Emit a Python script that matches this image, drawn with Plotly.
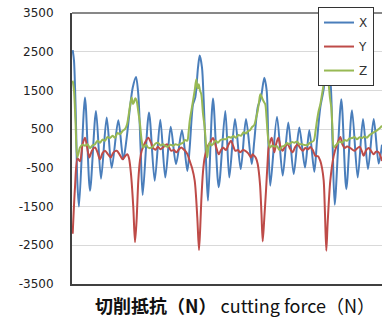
import plotly.graph_objects as go

# sample positions (arbitrary time units) and force values (N)
t_x = [0.7, 2, 4, 5.3, 7, 13, 18, 24, 29, 34.7, 39.7, 46.3, 51.3, 54.7, 58, 60.7, 64, 66.3, 68.7, 70.7,
       77, 82.7, 88.3, 93.3, 98.7, 104, 110, 115.3, 117.7, 121, 123.3, 126, 127.7, 130, 131.7, 134.3, 136,
       141, 146.7, 153.3, 157.3, 163, 168.7, 174, 179.7, 182.3, 185.7, 189, 192.3, 194.7, 196.3, 198.3,
       205, 210.7, 216.3, 221.7, 227.3, 233, 237.3, 242.3, 245, 248.3, 251.5, 255, 258.5, 260.5, 262.7,
       269.3, 274.3, 280, 285.7, 291, 296, 301.7, 306.7, 310]
v_x = [2540, 2270, 640, -830, -1500, 1315, -1090, 970, -780, 800, -500, 730, -280, 280, 1060, 1570, 1850, 1400, -60, -1200,
       930, -830, 740, -750, 560, -400, 470, -580, 25, 1140, 1320, 2090, 2400, 2090, 1230, -490, -1350,
       1290, -1000, 970, -750, 760, -530, 760, -400, 200, 1060, 1320, 1830, 1490, 200, -960,
       820, -700, 670, -660, 540, -490, 470, -600, 200, 1060, 1500, 2200, 1700, 200, -1450,
       1270, -1050, 990, -750, 760, -530, 760, -390, 100]

t_y = [0.7, 3, 5.5, 8, 10.5, 13, 15, 17.3, 20, 23, 25.5, 28, 30.5, 33, 36, 38.7, 41.5, 44.7, 47.5, 50.7, 53, 55.3, 57,
       59, 61.3, 63, 64.7, 66.3, 68, 69.7, 73, 76.3, 79, 81, 83.5, 86, 88.5, 91, 95, 97, 99.3, 102, 104.3, 107,
       109.3, 111.5, 113.3, 115.5, 117.7, 120, 122.7, 125.3, 127, 128.3, 129.3, 131, 132.7, 136, 138, 141, 144,
       146.7, 149, 151, 154, 156.5, 159, 161, 163.3, 166, 168, 171, 173.3, 176, 179, 180.5, 182.3, 184, 185.7,
       188, 189.5, 190.7, 192.3, 194, 195.5, 196.7, 199.7, 202.3, 204, 206.3, 208.5, 210.7, 213, 215.7, 218,
       220.7, 223, 225.7, 228, 230.7, 233.3, 236, 238.3, 241, 243.3, 246, 248.3, 250, 251.7, 253, 254.3, 255.7,
       258.3, 261.7, 265, 268.3, 270.5, 272.7, 275, 277.7, 280, 282.7, 285, 287.7, 290, 291.7, 294, 296.7, 299,
       301.7, 304, 306.7, 310]
v_y = [-2200, -1000, -250, -330, 100, 280, 50, -230, -50, 25, -100, -280, -120, -60, -150, -230, -100, -60, -150, -280, -200, -150, -250,
       -660, -1520, -2420, -1800, -830, -300, -60, 150, 280, 150, 15, -30, 45, -20, 25, 110, 30, -60, -40, -100, -20,
       25, -20, -60, -150, -320, -500, -830, -1780, -2620, -2000, -1350, -600, -230, 70, 150, 270, 50,
       -150, -40, 25, -40, 100, 200, 80, -60, -40, -100, -40, -60, -120, -230, -150, -190, -250, -400,
       -920, -1700, -2400, -1800, -1090, -400, 25, 280, -100, 100, 280, 50, -60, 50, 110, 0,
       -100, 30, 110, 20, -60, 15, -20, 40, -50, -190, -200, -320, -500, -830, -1700, -2640, -1900,
       -830, -190, 100, 300, 100, 15, 50, 25, -20, -60, 0, 45, -80, -190, -50, 15, -60,
       -150, -80, -100, -320]

t_z = [0.7, 2, 3.5, 5.3, 8, 10.5, 13, 15.5, 18, 20.5, 23, 25.5, 28, 30.5, 33, 35.5, 38, 40.5, 43, 45.5, 48, 50.5, 53,
       55, 56.3, 58, 59.7, 61, 62, 63.3, 64.7, 66.3, 68, 69.7, 71.3, 74, 76, 78, 81, 83.5, 86, 88.5, 91, 93.5, 96,
       98.5, 101, 103.5, 106, 108.5, 111, 113, 115.3, 116.5, 117.7, 119.5, 121, 122.7, 124.3, 125.5, 126.7, 128,
       129.3, 131, 132.7, 134, 135.3, 136.5, 137.7, 139.5, 141, 143.5, 146, 148.5, 151, 154, 156.5, 159, 161.5,
       164, 166.5, 169, 171.5, 174, 176, 178, 180, 182.3, 184, 185.7, 187, 188.3, 189.5, 190.7, 192, 193.3,
       194.5, 195.7, 197, 198, 200, 202.3, 205, 207.3, 210, 212.3, 215, 217.3, 220, 222.3, 225, 227.3, 230,
       232.3, 235, 238.3, 241.7, 243.5, 245, 246.5, 248.3, 250, 251.7, 253, 254.3, 255.5, 256.7, 258, 259.3,
       260.5, 261.7, 263.5, 265, 267.5, 270, 272.5, 275, 277.5, 280, 282.5, 285, 287.5, 290, 292.5, 295, 297.5,
       300, 302.5, 305, 307.5, 310]
v_z = [1750, 1500, 700, -230, 25, 100, 70, 110, 10, 80, 110, 200, 150, 230, 200, 300, 270, 330, 280, 400, 370, 450, 500,
       620, 800, 1100, 1320, 1150, 1190, 1300, 1230, 950, 630, 200, 25, 100, 25, 10, 50, 130, 150, 80, 110, 60, 50,
       100, 70, 110, 90, 120, 150, 220, 200, 400, 710, 1000, 1230, 1500, 1790, 1550, 1660, 1500,
       1400, 900, 540, 100, -230, 50, 150, 80, 110, 200, 150, 220, 240, 240, 300, 280, 320,
       280, 350, 330, 420, 390, 450, 470, 550, 610, 780, 970, 1200, 1400, 1350, 1270, 1200, 1140,
       800, 370, 100, 25, 80, 50, 60, -40, 50, 70, 140, 110, 170, 150, 180, 110, 110,
       90, 90, 150, 200, 450, 720, 950, 1140, 1400, 1660, 1950, 1800, 1950, 1660, 1300, 1060,
       500, 25, 80, 110, 180, 150, 220, 200, 260, 270, 300, 240, 290, 270, 310, 280, 350,
       390, 430, 470, 520, 590]

y_ticks = [-3500, -2500, -1500, -500, 500, 1500, 2500, 3500]
series_names = ["X", "Y", "Z"]
series_colors = ["#4A7EBB", "#BE4B48", "#98B954"]

fig = go.Figure()
for name, tt, vv, col in zip(series_names, [t_x, t_y, t_z], [v_x, v_y, v_z], series_colors):
    fig.add_trace(go.Scatter(x=tt, y=vv, mode="lines", name=name, legendgroup=name,
                             line=dict(color=col, width=2, shape="spline", smoothing=0.8)))

fig.update_layout(
    width=382, height=318,
    margin=dict(l=72, r=0, t=13, b=34, autoexpand=False),
    paper_bgcolor="white", plot_bgcolor="white",
    showlegend=True,
    legend=dict(x=0.7935, y=1.022, xanchor="left", yanchor="top",
                bgcolor="white", bordercolor="#333333", borderwidth=1,
                font=dict(family="DejaVu Sans", size=12, color="#333333"),
                tracegroupgap=5, traceorder="grouped", entrywidth=70),
    xaxis=dict(range=[0, 310], showticklabels=False, showgrid=False, zeroline=False,
               showline=True, linecolor="#404040", linewidth=2, ticks=""),
    yaxis=dict(range=[-3500, 3500], tickvals=y_ticks, ticktext=[str(v) for v in y_ticks],
               showgrid=True, gridcolor="#D9D9D9", gridwidth=1, zeroline=False,
               showline=True, linecolor="#404040", linewidth=2, ticks="",
               ticklabelstandoff=14,
               tickfont=dict(family="DejaVu Sans", size=12, color="#222222")),
    shapes=[dict(type="line", xref="paper", yref="paper", x0=0, x1=1, y0=1, y1=1,
                 line=dict(color="#111111", width=1))],
    annotations=[dict(xref="paper", yref="paper", x=0.527, y=-0.0775, xanchor="center", yanchor="middle",
                      showarrow=False,
                      text="<b>切削抵抗（N）</b> <span style='font-size:18px'>cutting force（N）</span>",
                      font=dict(family="Noto Sans CJK JP", size=18, color="#111111"))],
)

fig.write_html("out.html", config={"displayModeBar": False},
               post_script="document.body.style.margin='0';document.body.style.overflow='hidden';")
